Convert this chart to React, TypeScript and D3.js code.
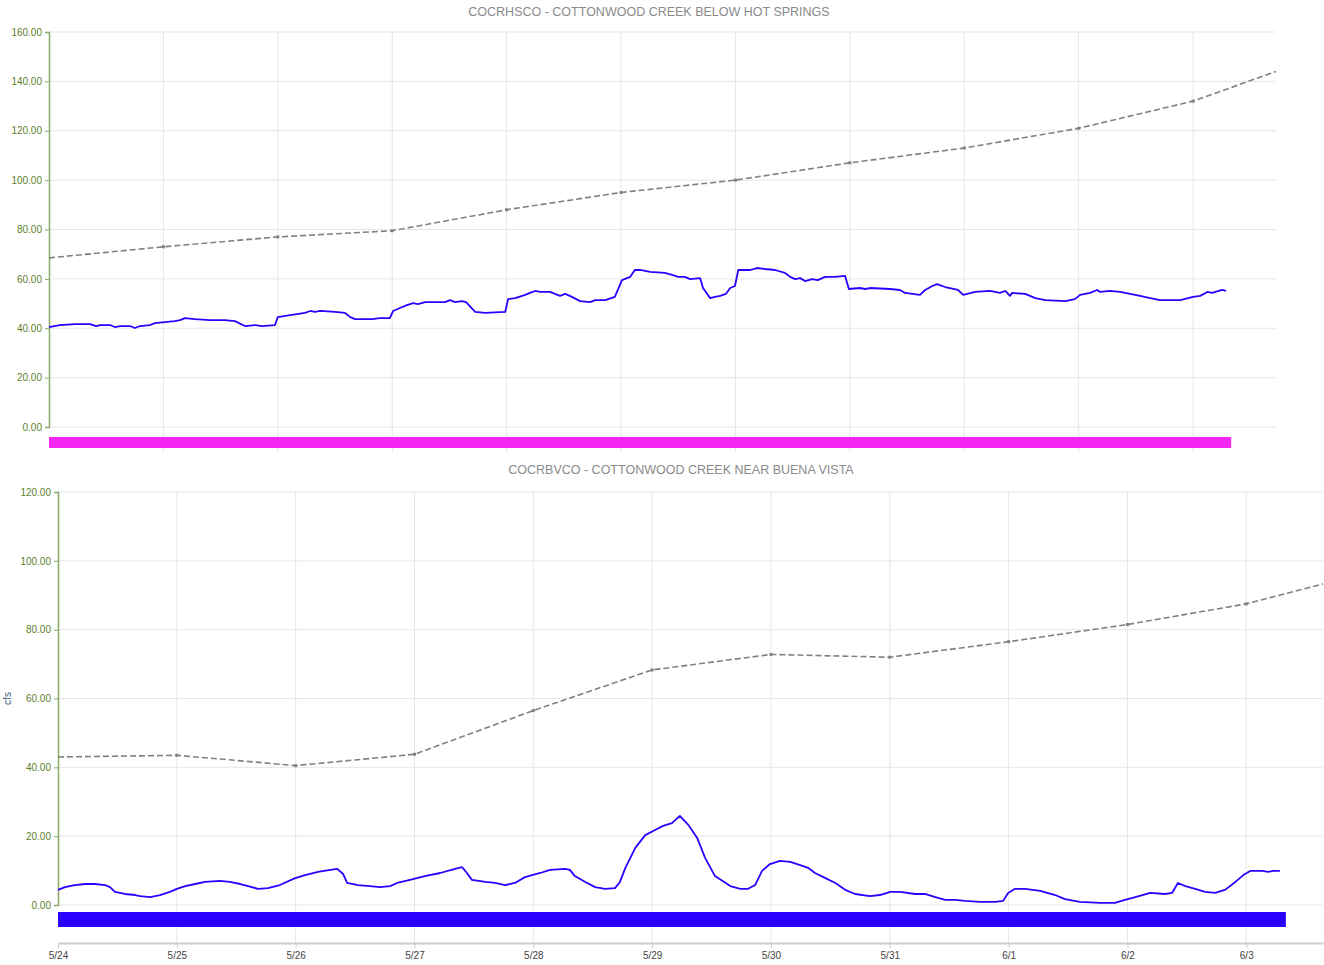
import React, { useEffect, useRef } from "react";
import * as d3 from "d3";

// Day labels along the time axis (hours from 5/24 00:00 are 0, 24, 48, ...)
const dayLabels = ["5/24", "5/25", "5/26", "5/27", "5/28", "5/29", "5/30", "5/31", "6/1", "6/2", "6/3"];
const dayHours = dayLabels.map((_, i) => i * 24);

// COCRHSCO - observed flow (hours, cfs)
const hsHours = [0, 2.3, 5.5, 8.6, 9.9, 10.7, 12.8, 13.8, 14.9, 17.0, 18.0, 19.1, 21.2, 22.2, 24.3, 26.4, 27.5, 28.5, 30.6, 33.8, 36.9, 39.0, 41.1, 43.2, 44.7, 47.4, 48.0, 50.6, 53.7, 54.8, 55.8, 56.9, 60.0, 62.1, 63.2, 64.2, 67.8, 69.4, 71.5, 72.2, 73.6, 75.1, 76.4, 77.4, 78.9, 83.1, 84.1, 85.2, 86.6, 87.5, 89.4, 91.5, 95.7, 96.3, 97.8, 99.9, 100.9, 102.0, 103.0, 105.1, 107.2, 108.3, 109.7, 111.4, 113.5, 114.6, 116.7, 118.7, 120.2, 121.9, 122.9, 124.0, 126.1, 129.2, 130.7, 132.0, 133.4, 134.5, 136.6, 137.2, 138.7, 139.7, 140.8, 142.0, 142.9, 143.9, 144.6, 147.1, 148.5, 150.2, 152.3, 154.4, 155.5, 156.5, 157.6, 158.6, 160.1, 161.3, 162.8, 164.9, 167.0, 167.8, 170.1, 171.2, 172.2, 176.4, 178.5, 179.6, 182.7, 183.8, 185.3, 186.3, 188.0, 190.7, 191.8, 194.3, 197.4, 199.5, 200.6, 201.6, 202.0, 204.8, 206.9, 209.0, 213.2, 215.2, 216.3, 218.4, 219.9, 220.5, 222.6, 224.7, 226.8, 228.9, 231.0, 233.1, 237.3, 240.0, 241.5, 243.0, 244.0, 246.1, 246.9];
const hsFlow = [40.5, 41.3, 41.7, 41.7, 40.9, 41.3, 41.3, 40.5, 40.9, 40.9, 40.1, 40.9, 41.3, 42.1, 42.5, 42.9, 43.3, 44.1, 43.7, 43.3, 43.3, 42.9, 40.9, 41.3, 40.9, 41.3, 44.5, 45.3, 46.2, 47.0, 46.6, 47.0, 46.6, 46.2, 44.5, 43.7, 43.7, 44.1, 44.1, 47.0, 48.2, 49.4, 50.2, 49.8, 50.6, 50.6, 51.4, 50.6, 51.0, 50.6, 46.6, 46.2, 46.6, 51.8, 52.2, 53.5, 54.3, 55.1, 54.7, 54.7, 53.1, 53.9, 52.7, 51.0, 50.6, 51.4, 51.4, 52.7, 59.5, 60.8, 63.6, 63.6, 62.8, 62.4, 61.6, 60.8, 60.8, 59.9, 60.3, 56.3, 52.2, 52.7, 53.1, 53.9, 56.3, 57.1, 63.6, 63.6, 64.4, 64.0, 63.6, 62.4, 60.8, 59.9, 60.3, 59.1, 59.9, 59.5, 60.8, 60.8, 61.2, 55.9, 56.3, 55.9, 56.3, 55.9, 55.5, 54.3, 53.5, 55.5, 57.1, 57.9, 56.7, 55.5, 53.5, 54.7, 55.1, 54.3, 55.1, 53.1, 54.3, 53.9, 52.2, 51.4, 51.0, 51.8, 53.5, 54.3, 55.5, 54.7, 55.1, 54.7, 53.9, 53.1, 52.2, 51.4, 51.4, 52.7, 53.1, 54.7, 54.3, 55.5, 55.1];

// COCRHSCO - daily forecast (hours, cfs)
const hsFcHours = [0, 24, 48, 72, 96, 120, 144, 168, 192, 216, 240, 257.4];
const hsFcFlow = [68.5, 73, 77, 79.5, 88, 95, 100, 107, 113, 121, 132, 144];

// COCRBVCO - observed flow (hours, cfs)
const bvHours = [0, 1.4, 3.4, 5.5, 7.5, 9.5, 10.5, 11.5, 13.5, 15.6, 16.6, 18.6, 20.6, 22.6, 24.0, 25.7, 27.7, 29.7, 32.7, 34.7, 36.8, 38.4, 40.4, 42.4, 44.8, 47.9, 49.9, 52.5, 55.0, 56.4, 57.6, 58.4, 60.6, 63.0, 65.0, 67.1, 68.5, 71.1, 74.1, 77.2, 80.2, 81.6, 82.6, 83.6, 86.3, 88.3, 90.3, 92.3, 94.3, 97.4, 99.4, 102.4, 103.4, 104.4, 106.5, 108.5, 110.5, 112.5, 113.5, 114.6, 116.6, 118.6, 120.6, 122.2, 124.0, 125.6, 127.3, 129.1, 130.7, 132.7, 135.8, 137.8, 139.4, 140.8, 142.2, 143.8, 145.8, 147.9, 149.9, 151.5, 152.9, 155.0, 157.0, 159.0, 161.0, 164.0, 166.0, 168.1, 170.1, 173.1, 175.1, 177.2, 179.2, 181.2, 183.2, 186.2, 189.3, 190.9, 191.9, 193.3, 195.3, 198.4, 201.4, 203.4, 206.4, 210.5, 213.5, 215.5, 217.6, 220.6, 223.6, 225.0, 226.2, 227.7, 229.7, 231.7, 233.7, 235.7, 237.8, 239.4, 240.8, 243.3, 244.4, 245.4, 246.8];
const bvFlow = [4.4, 5.2, 5.8, 6.1, 6.1, 5.8, 5.2, 3.8, 3.2, 2.9, 2.6, 2.3, 2.9, 3.8, 4.7, 5.5, 6.1, 6.7, 7.0, 6.7, 6.1, 5.5, 4.7, 4.9, 5.8, 7.8, 8.7, 9.6, 10.2, 10.5, 9.0, 6.4, 5.8, 5.5, 5.2, 5.5, 6.4, 7.3, 8.4, 9.3, 10.5, 11.0, 9.3, 7.3, 6.7, 6.4, 5.8, 6.4, 8.1, 9.3, 10.2, 10.5, 10.2, 8.4, 6.7, 5.2, 4.7, 4.9, 6.7, 10.8, 16.6, 20.3, 21.8, 23.0, 23.8, 25.9, 23.3, 19.5, 13.7, 8.4, 5.5, 4.7, 4.7, 5.8, 9.9, 11.9, 12.8, 12.5, 11.6, 10.8, 9.3, 7.8, 6.4, 4.4, 3.2, 2.6, 2.9, 3.8, 3.8, 3.2, 3.2, 2.3, 1.5, 1.5, 1.2, 0.9, 0.9, 1.2, 3.5, 4.7, 4.7, 4.1, 2.9, 1.7, 0.9, 0.6, 0.6, 1.5, 2.3, 3.5, 3.2, 3.5, 6.4, 5.5, 4.7, 3.8, 3.5, 4.4, 6.7, 8.7, 9.9, 9.9, 9.6, 9.9, 9.9];

// COCRBVCO - daily forecast (hours, cfs)
const bvFcHours = [0, 24, 48, 72, 96, 120, 144, 168, 192, 216, 240, 255.5];
const bvFcFlow = [43, 43.5, 40.5, 43.8, 56.5, 68.3, 72.8, 72, 76.5, 81.5, 87.5, 93.3];

// Period of record shown by the status bar under each chart (hours)
const hsBarSpan = [0, 248];
const bvBarSpan = [0, 248];

const hsTicks = [0, 20, 40, 60, 80, 100, 120, 140, 160];
const bvTicks = [0, 20, 40, 60, 80, 100, 120];

const FONT = "'Liberation Sans', Arial, sans-serif";
const AXIS_GREEN = "#8aa86a";
const LABEL_GREEN = "#5c7f2c";
const GRID = "#e6e6e6";
const FLOW_BLUE = "#2c00ff";

type PanelSpec = {
  title: string;
  titleX: number;
  titleY: number;
  left: number;
  right: number;
  top: number;
  zeroY: number;
  bottom: number;
  hourMax: number;
  yMax: number;
  ticks: number[];
  hours: number[];
  flow: number[];
  fcHours: number[];
  fcFlow: number[];
  barSpan: number[];
  barColor: string;
  barOffset: number;
  barHeight: number;
  showTimeAxis: boolean;
  showUnits: boolean;
};

function drawPanel(g: d3.Selection<SVGGElement, unknown, null, undefined>, p: PanelSpec) {
  const x = d3.scaleLinear().domain([0, p.hourMax]).range([p.left, p.right]);
  const y = d3.scaleLinear().domain([0, p.yMax]).range([p.zeroY, p.top]);

  g.append("text")
    .attr("x", p.titleX)
    .attr("y", p.titleY)
    .attr("text-anchor", "middle")
    .attr("font-family", FONT)
    .attr("font-size", 12.5)
    .attr("fill", "#8a8a8a")
    .text(p.title);

  // horizontal grid
  g.append("g")
    .selectAll("line")
    .data(p.ticks)
    .join("line")
    .attr("x1", p.left)
    .attr("x2", p.right)
    .attr("y1", (d) => y(d))
    .attr("y2", (d) => y(d))
    .attr("stroke", GRID)
    .attr("stroke-width", 1);

  // vertical day grid
  g.append("g")
    .selectAll("line")
    .data(dayHours.filter((h) => h > 0))
    .join("line")
    .attr("x1", (d) => x(d))
    .attr("x2", (d) => x(d))
    .attr("y1", p.top)
    .attr("y2", p.bottom)
    .attr("stroke", GRID)
    .attr("stroke-width", 1);

  // status bar
  g.append("rect")
    .attr("x", x(p.barSpan[0]))
    .attr("width", x(p.barSpan[1]) - x(p.barSpan[0]))
    .attr("y", p.zeroY + p.barOffset)
    .attr("height", p.barHeight)
    .attr("fill", p.barColor);

  // y axis
  const yAxis = g
    .append("g")
    .attr("transform", `translate(${p.left},0)`)
    .call(
      d3
        .axisLeft(y)
        .tickValues(p.ticks)
        .tickFormat(d3.format(".2f"))
        .tickSize(4)
        .tickSizeOuter(4)
        .tickPadding(3)
    );
  yAxis.select(".domain").attr("stroke", AXIS_GREEN).attr("stroke-width", 1.5);
  yAxis.selectAll(".tick line").attr("stroke", AXIS_GREEN);
  yAxis
    .selectAll(".tick text")
    .attr("fill", LABEL_GREEN)
    .attr("font-family", FONT)
    .attr("font-size", 10);

  if (p.showUnits) {
    g.append("text")
      .attr("transform", `translate(11,${(p.top + p.zeroY) / 2}) rotate(-90)`)
      .attr("text-anchor", "middle")
      .attr("font-family", FONT)
      .attr("font-size", 10)
      .attr("fill", "#3a5f8a")
      .text("cfs");
  }

  if (p.showTimeAxis) {
    const xAxis = g
      .append("g")
      .attr("transform", `translate(0,${p.bottom})`)
      .call(
        d3
          .axisBottom(x)
          .tickValues(dayHours)
          .tickFormat((_, i) => dayLabels[i])
          .tickSize(5)
          .tickSizeOuter(0)
          .tickPadding(4)
      );
    xAxis.select(".domain").attr("stroke", "#ccc").attr("stroke-width", 2);
    xAxis.selectAll(".tick line").attr("stroke", "#ccc");
    xAxis
      .selectAll(".tick text")
      .attr("fill", "#444")
      .attr("font-family", FONT)
      .attr("font-size", 10);
  }

  // forecast (dashed with small markers)
  const fc = p.fcHours.map((h, i) => [h, p.fcFlow[i]] as [number, number]);
  g.append("path")
    .attr("d", d3.line<[number, number]>().x((d) => x(d[0])).y((d) => y(d[1]))(fc) ?? "")
    .attr("fill", "none")
    .attr("stroke", "#808080")
    .attr("stroke-width", 1.6)
    .attr("stroke-dasharray", "6,3");
  g.append("g")
    .selectAll("rect")
    .data(fc.slice(1, -1))
    .join("rect")
    .attr("x", (d) => x(d[0]) - 1.5)
    .attr("y", (d) => y(d[1]) - 1.5)
    .attr("width", 3)
    .attr("height", 3)
    .attr("fill", "#808080");

  // observed flow
  const obs = p.hours.map((h, i) => [h, p.flow[i]] as [number, number]);
  g.append("path")
    .attr("d", d3.line<[number, number]>().x((d) => x(d[0])).y((d) => y(d[1]))(obs) ?? "")
    .attr("fill", "none")
    .attr("stroke", FLOW_BLUE)
    .attr("stroke-width", 1.8)
    .attr("stroke-linejoin", "round");
}

export default function App() {
  const ref = useRef<SVGSVGElement | null>(null);

  useEffect(() => {
    const svg = d3.select(ref.current);
    svg.selectAll("*").remove();

    drawPanel(svg.append("g"), {
      title: "COCRHSCO - COTTONWOOD CREEK BELOW HOT SPRINGS",
      titleX: 649,
      titleY: 16,
      left: 49,
      right: 1276,
      top: 32,
      zeroY: 427,
      bottom: 452,
      hourMax: 257.4,
      yMax: 160,
      ticks: hsTicks,
      hours: hsHours,
      flow: hsFlow,
      fcHours: hsFcHours,
      fcFlow: hsFcFlow,
      barSpan: hsBarSpan,
      barColor: "#f527f5",
      barOffset: 10,
      barHeight: 11,
      showTimeAxis: false,
      showUnits: false,
    });

    drawPanel(svg.append("g"), {
      title: "COCRBVCO - COTTONWOOD CREEK NEAR BUENA VISTA",
      titleX: 681,
      titleY: 474,
      left: 58,
      right: 1323,
      top: 492,
      zeroY: 905,
      bottom: 943,
      hourMax: 255.5,
      yMax: 120,
      ticks: bvTicks,
      hours: bvHours,
      flow: bvFlow,
      fcHours: bvFcHours,
      fcFlow: bvFcFlow,
      barSpan: bvBarSpan,
      barColor: "#2a00ff",
      barOffset: 7,
      barHeight: 15,
      showTimeAxis: true,
      showUnits: true,
    });
  }, []);

  return (
    <svg
      ref={ref}
      width={1324}
      height={965}
      style={{ position: "absolute", left: 0, top: 0, background: "#fff" }}
    />
  );
}
